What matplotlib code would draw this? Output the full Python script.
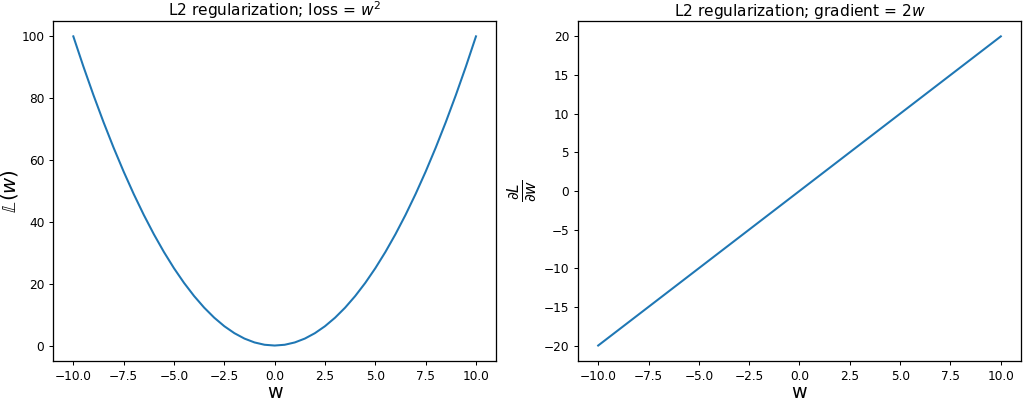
import numpy as np
import matplotlib.pyplot as plt


# w values read along the horizontal axis
w_values = [-10.0, -9.5, -9.0, -8.5, -8.0, -7.5, -7.0, -6.5, -6.0, -5.5, -5.0,
            -4.5, -4.0, -3.5, -3.0, -2.5, -2.0, -1.5, -1.0, -0.5, 0.0,
            0.5, 1.0, 1.5, 2.0, 2.5, 3.0, 3.5, 4.0, 4.5, 5.0,
            5.5, 6.0, 6.5, 7.0, 7.5, 8.0, 8.5, 9.0, 9.5, 10.0]

# loss curve
loss_values = [100.0, 90.25, 81.0, 72.25, 64.0, 56.25, 49.0, 42.25, 36.0, 30.25, 25.0,
               20.25, 16.0, 12.25, 9.0, 6.25, 4.0, 2.25, 1.0, 0.25, 0.0,
               0.25, 1.0, 2.25, 4.0, 6.25, 9.0, 12.25, 16.0, 20.25, 25.0,
               30.25, 36.0, 42.25, 49.0, 56.25, 64.0, 72.25, 81.0, 90.25, 100.0]

# gradient line
grad_w = [-10.0, -5.0, 0.0, 5.0, 10.0]
grad_values = [-20.0, -10.0, 0.0, 10.0, 20.0]

DPI = 92
plt.rcParams['axes.linewidth'] = 1.0
plt.rcParams['xtick.labelsize'] = 9.5
plt.rcParams['ytick.labelsize'] = 9.5

fig, (ax1, ax2) = plt.subplots(1, 2, figsize=(1023 / DPI, 402 / DPI), dpi=DPI)

ax1.plot(w_values, loss_values, linewidth=1.6)
ax1.set_title(r'L2 regularization; loss = $w^2$', pad=2)
ax1.set_xlabel('w', fontsize=15, labelpad=0)
ax1.set_ylabel(r'$\mathbb{L}(w)$', fontsize=15.5, labelpad=1)

ax2.plot(grad_w, grad_values, linewidth=1.6)
ax2.set_title(r'L2 regularization; gradient = $2w$', pad=2)
ax2.set_xlabel('w', fontsize=15, labelpad=0)
ax2.set_ylabel(r'$\frac{\partial L}{\partial w}$', fontsize=17, labelpad=3)

plt.subplots_adjust(left=0.052, right=0.998, bottom=0.102, top=0.948, wspace=0.185)
plt.savefig('out.png', dpi=DPI)
